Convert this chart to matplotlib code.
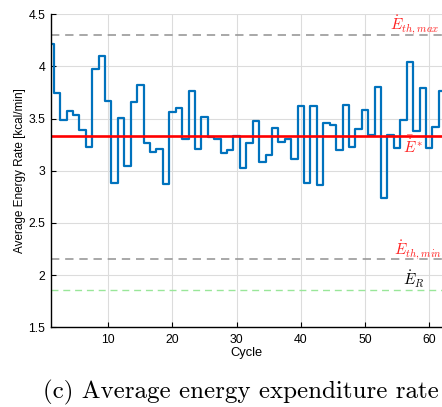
import numpy as np
import matplotlib
matplotlib.use("Agg")
import matplotlib.pyplot as plt
from matplotlib.ticker import FormatStrFormatter

plt.rcParams['font.family'] = ['Liberation Sans', 'DejaVu Sans']
plt.rcParams['mathtext.fontset'] = 'cm'

# data
cycles = np.arange(1, 63)
rate = [4.22, 3.75, 3.49, 3.575, 3.53, 3.39, 3.23, 3.98, 4.10, 3.67,
        2.885, 3.51, 3.05, 3.66, 3.82, 3.27, 3.18, 3.21, 2.87, 3.565,
        3.60, 3.30, 3.76, 3.21, 3.52, 3.32, 3.30, 3.17, 3.20, 3.335,
        3.03, 3.27, 3.48, 3.08, 3.15, 3.41, 3.28, 3.30, 3.11, 3.62,
        2.885, 3.62, 2.86, 3.46, 3.435, 3.20, 3.63, 3.23, 3.40, 3.58,
        3.345, 3.80, 2.74, 3.345, 3.22, 3.49, 4.04, 3.38, 3.79, 3.22,
        3.42, 3.76]
mean_rate = 3.335
th_max = 4.30
th_min = 2.15
rest_rate = 1.86

fig = plt.figure(figsize=(4.42, 4.07), dpi=100)
ax = fig.add_axes([0.1165, 0.1958, 0.8835, 0.7691])

ax.grid(True, color='#dcdcdc', lw=0.8)
ax.set_axisbelow(True)

ax.axhline(th_max, color='#999999', lw=1.2, ls=(0, (5, 3.5)))
ax.axhline(th_min, color='#999999', lw=1.2, ls=(0, (5, 3.5)))
ax.axhline(rest_rate, color='#99e699', lw=1.0, ls=(0, (5, 3.5)))
ax.plot(cycles, rate, drawstyle='steps-mid', color='#0072BD', lw=1.6)
ax.axhline(mean_rate, color='#ff0000', lw=1.9)

# labels sit at the right edge, partly cut off like in the original
ax.text(53.9, 4.36, r'$\dot{E}_{th,max}$', color='#ff2020', fontsize=11,
        ha='left', va='baseline', clip_on=False)
ax.text(55.9, 3.175, r'$\bar{\dot{E}}^*$', color='#ff2020', fontsize=11,
        ha='left', va='baseline', clip_on=False)
ax.text(54.5, 2.20, r'$\dot{E}_{th,min}$', color='#ff2020', fontsize=11,
        ha='left', va='baseline', clip_on=False)
ax.text(55.9, 1.90, r'$\dot{E}_R$', color='black', fontsize=11,
        ha='left', va='baseline', clip_on=False)

ax.set_xlim(1.15, 62)
ax.set_ylim(1.5, 4.5)
ax.set_xticks([10, 20, 30, 40, 50, 60])
ax.set_yticks(np.arange(1.5, 4.51, 0.5))
ax.yaxis.set_major_formatter(FormatStrFormatter('%g'))
ax.tick_params(direction='in', length=3.5, width=0.8, labelsize=8.8, pad=4.5)
for s in ['top', 'right']:
    ax.spines[s].set_visible(False)
for s in ['left', 'bottom']:
    ax.spines[s].set_linewidth(1.0)

ax.set_xlabel('Cycle', fontsize=9.3, labelpad=1)
ax.set_ylabel('Average Energy Rate [kcal/min]', fontsize=8.5, labelpad=2)

fig.text(0.545, 0.022, '(c) Average energy expenditure rate',
         family='cmr10', fontsize=18, ha='center', va='baseline')

fig.savefig('out.png', dpi=100)
